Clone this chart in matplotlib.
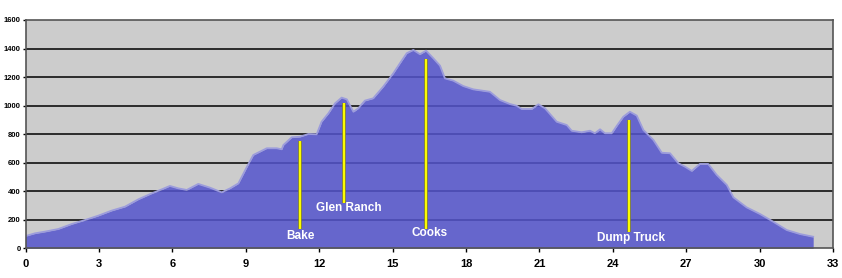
import matplotlib
matplotlib.use("Agg")
import matplotlib.pyplot as plt

# Elevation profile data (distance, elevation)
distance = [0, 0.39, 0.8, 1.34, 1.89, 2.43, 2.98, 3.52, 4.07, 4.61, 5.16, 5.57, 5.9,
            6.25, 6.59, 7.06, 7.54, 8.02, 8.36, 8.7, 9.04, 9.31, 9.58, 9.86, 10.27,
            10.47, 10.54, 10.88, 11.22, 11.56, 11.9, 12.1, 12.38, 12.65, 12.92, 13.13,
            13.4, 13.6, 13.87, 14.21, 14.62, 15.03, 15.3, 15.58, 15.85, 16.12, 16.37,
            16.67, 16.94, 17.14, 17.48, 17.89, 18.3, 18.98, 19.39, 19.8, 20.07, 20.28,
            20.69, 20.96, 21.23, 21.71, 22.12, 22.32, 22.73, 23.07, 23.27, 23.48, 23.68,
            23.96, 24.16, 24.43, 24.7, 24.98, 25.25, 25.66, 26.0, 26.34, 26.68, 26.95,
            27.23, 27.56, 27.9, 28.25, 28.66, 28.93, 29.47, 30.02, 30.56, 31.11, 31.65,
            32.19]
elevation = [86, 105, 117, 135, 170, 198, 229, 264, 292, 343, 385, 413, 437,
             420, 409, 451, 425, 392, 420, 455, 568, 654, 677, 701, 701,
             694, 724, 778, 782, 801, 799, 887, 946, 1016, 1056, 1044,
             957, 981, 1035, 1051, 1133, 1226, 1296, 1367, 1390, 1360, 1385,
             1331, 1280, 1191, 1175, 1137, 1114, 1097, 1039, 1011, 999, 976,
             976, 1009, 981, 887, 864, 824, 813, 824, 806, 834, 806,
             806, 857, 922, 957, 930, 829, 759, 670, 666, 596, 572,
             542, 591, 591, 514, 444, 357, 287, 240, 186, 128, 100,
             81]

marker_names = ["Bake", "Glen Ranch", "Cooks", "Dump Truck"]
marker_dist = [11.23, 13.02, 16.36, 24.68]
marker_top = [753, 1015, 1324, 898]

x_ticks = [0, 3, 6, 9, 12, 15, 18, 21, 24, 27, 30, 33]
y_ticks = [0, 200, 400, 600, 800, 1000, 1200, 1400, 1600]

# layout (style) values
marker_bottom = [138, 318, 138, 114]
label_x = [11.25, 13.22, 16.52, 24.74]
label_y = [86, 283, 110, 72]

W, H = 842, 278
fig = plt.figure(figsize=(W / 100, H / 100), dpi=100)
fig.patch.set_facecolor("white")
ax = fig.add_axes([25.5 / W, (H - 248.3) / H, (833 - 25.5) / W, (248.3 - 20) / H])
ax.set_facecolor("#CCCCCC")

for y in y_ticks[1:-1]:
    ax.axhline(y, color="black", lw=1.1, zorder=1)

ax.fill_between(distance, elevation, 0, color="#5454CC", alpha=0.85, lw=0, zorder=2)
ax.plot(distance, elevation, color="#9C9CDC", lw=1.3, zorder=3)

for d, top, bot in zip(marker_dist, marker_top, marker_bottom):
    ax.plot([d, d], [bot, top], color="#8C8C20", lw=2.6, zorder=4, solid_capstyle="butt")
    ax.plot([d, d], [bot, top], color="#FFFF00", lw=1.4, zorder=5, solid_capstyle="butt")

for name, lx, ly in zip(marker_names, label_x, label_y):
    ax.text(lx, ly, name, color="white", fontsize=8.5, fontweight="bold",
            family="Liberation Sans", ha="center", va="center", zorder=6)

ax.set_xlim(0, 33)
ax.set_ylim(0, 1600)
ax.set_xticks(x_ticks)
ax.set_xticklabels([str(t) for t in x_ticks], fontsize=8, fontweight="bold",
                   family="Liberation Sans")
ax.set_yticks(y_ticks)
ax.set_yticklabels([str(t) for t in y_ticks], fontsize=5.5, fontweight="bold",
                   family="Liberation Sans")
ax.tick_params(axis="x", length=3, width=1, pad=5, color="black")
ax.tick_params(axis="y", length=2, width=1, pad=1.5, color="black")

for s in ax.spines.values():
    s.set_linestyle((0, (1, 1)))
    s.set_color("#555555")
    s.set_linewidth(1.2)
    s.set_zorder(7)

fig.savefig("out.png", dpi=100, facecolor="white")
